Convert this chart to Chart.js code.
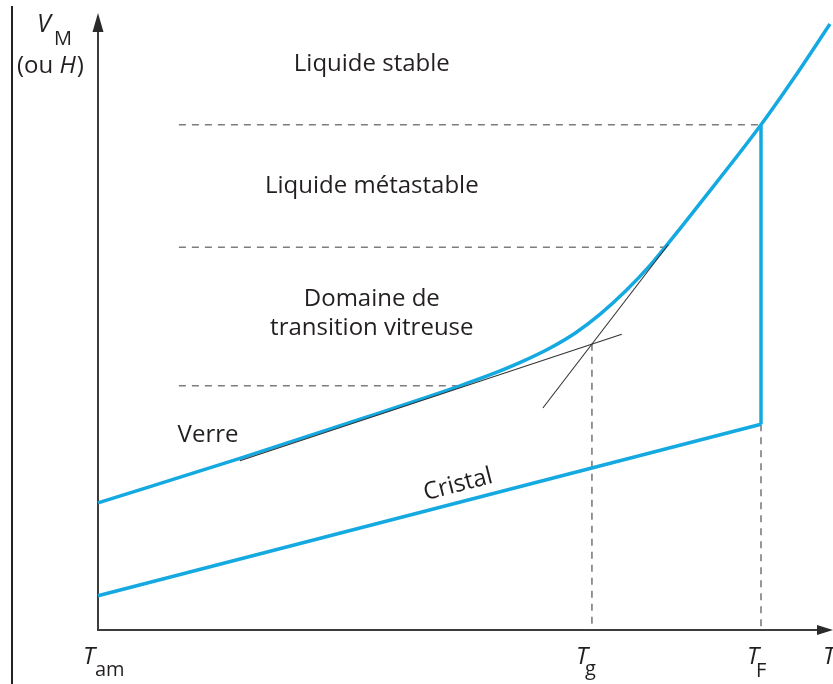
<!DOCTYPE html>
<html>
<head>
<meta charset="utf-8">
<script src="https://cdn.jsdelivr.net/npm/chart.js@4.4.0/dist/chart.umd.min.js"></script>
<style>
html, body { margin: 0; padding: 0; background: #fff; }
#wrap { position: relative; width: 833px; height: 684px; overflow: hidden; }
#wrap canvas { position: absolute; left: 0; top: 0; }
#edge { position: absolute; left: 11px; top: 6px; width: 2px; height: 678px; background: #222; }
</style>
</head>
<body>
<div id="wrap">
  <canvas id="diagram" width="833" height="684"></canvas>
  <div id="edge"></div>
</div>
<script>
// temperature axis: T_am = 0, T_F = 100 ; volume axis in arbitrary units
const tempMax = 110.86;
const volMax = 102.83;

// liquide -> verre (blue curve)
const tempLiquid = [0, 21.4, 40, 54.6, 59.1, 63.7, 68.2, 72.0, 75.7, 79.5, 83.3, 87.0, 90.8, 100, 105.1, 110.4];
const volLiquid  = [21.2, 28.6, 35.3, 40.7, 42.5, 44.6, 47.0, 49.5, 52.6, 56.4, 60.8, 65.8, 71.1, 84.2, 92.2, 101.0];

// cristal
const tempCrystal = [0, 100];
const volCrystal  = [5.7, 34.3];

// saut a la fusion
const tempMelt = [100, 100];
const volMelt  = [34.3, 84.2];

// tangentes (verre / liquide)
const tempGlassTangent  = [21.4, 79.0];
const volGlassTangent   = [28.2, 49.3];
const tempLiquidTangent = [67.1, 86.0];
const volLiquidTangent  = [37.0, 64.2];

// niveaux en pointille
const levelStart = 12.2;
const levelVol   = [84.2, 63.8, 40.7];
const levelEnd   = [100, 85.5, 54.6];

// verticales en pointille
const Tg = 74.5, Vg = 47.7;
const TF = 100, VF = 34.3;

const zonesText = ['Liquide stable', 'Liquide métastable', 'Domaine de', 'transition vitreuse'];
const zonesVol  = [94.3, 73.9, 55.1, 50.3];
const zonesTemp = 41.3;

const blue = '#14a9e0';
const dashGrey = '#7d7d7d';
const ink = '#231f20';

function pts(xs, ys) {
    return xs.map((x, i) => ({ x: x, y: ys[i] }));
}

const datasets = [
    { data: pts(tempGlassTangent, volGlassTangent), borderColor: '#333', borderWidth: 1.1, order: 0 },
    { data: pts(tempLiquidTangent, volLiquidTangent), borderColor: '#333', borderWidth: 1.1, order: 0 },
    { data: pts(tempLiquid, volLiquid), borderColor: blue, borderWidth: 3.5, cubicInterpolationMode: 'monotone', order: 1 },
    { data: pts(tempCrystal, volCrystal), borderColor: blue, borderWidth: 3.5, order: 1 },
    { data: pts(tempMelt, volMelt), borderColor: blue, borderWidth: 3.5, order: 1 },
    { data: pts([Tg, Tg], [Vg, 0]), borderColor: dashGrey, borderWidth: 1.6, borderDash: [7, 6], order: 2 },
    { data: pts([TF, TF], [VF, 0]), borderColor: dashGrey, borderWidth: 1.6, borderDash: [7, 6], order: 2 }
];
levelVol.forEach((v, i) => {
    datasets.push({ data: pts([levelStart, levelEnd[i]], [v, v]), borderColor: dashGrey, borderWidth: 1.6, borderDash: [7, 6], order: 2 });
});
datasets.forEach(d => { d.showLine = true; d.pointRadius = 0; d.fill = false; d.clip = false; });

// T avec indice
function subLabel(ctx, main, sub, x, y, dx, dy) {
    ctx.font = 'italic 24px "Open Sans"';
    ctx.textAlign = 'left';
    ctx.fillText(main, x, y);
    const w = ctx.measureText(main).width;
    ctx.font = '20px "Open Sans"';
    ctx.fillText(sub, x + w + dx, y + dy);
}

const annotations = {
    id: 'annotations',
    beforeDatasetsDraw(chart) {
        const ctx = chart.ctx;
        const xs = chart.scales.x, ys = chart.scales.y;
        const x0 = xs.getPixelForValue(0), y0 = ys.getPixelForValue(0);
        const xEnd = xs.getPixelForValue(tempMax), yEnd = ys.getPixelForValue(volMax);
        ctx.save();
        ctx.strokeStyle = '#3c3c3c';
        ctx.fillStyle = '#2a2a2a';
        ctx.lineWidth = 2;
        ctx.beginPath();
        ctx.moveTo(x0, yEnd + 15);
        ctx.lineTo(x0, y0);
        ctx.lineTo(xEnd - 12, y0);
        ctx.stroke();
        // fleches
        ctx.beginPath();
        ctx.moveTo(x0, yEnd);
        ctx.lineTo(x0 - 5.5, yEnd + 19);
        ctx.lineTo(x0 + 5.5, yEnd + 19);
        ctx.closePath();
        ctx.fill();
        ctx.beginPath();
        ctx.moveTo(xEnd, y0);
        ctx.lineTo(xEnd - 16, y0 - 5);
        ctx.lineTo(xEnd - 16, y0 + 5);
        ctx.closePath();
        ctx.fill();
        ctx.restore();
    },
    afterDatasetsDraw(chart) {
        const ctx = chart.ctx;
        const xs = chart.scales.x, ys = chart.scales.y;
        ctx.save();
        ctx.fillStyle = ink;
        ctx.textBaseline = 'middle';
        ctx.textAlign = 'center';
        ctx.font = '24px "Open Sans"';
        zonesText.forEach((t, i) => {
            ctx.fillText(t, xs.getPixelForValue(zonesTemp), ys.getPixelForValue(zonesVol[i]));
        });
        ctx.fillText('Verre', xs.getPixelForValue(16.6), ys.getPixelForValue(32.5));

        // Cristal, parallele a la droite
        const cx = xs.getPixelForValue(54.3), cy = ys.getPixelForValue(24.2);
        const ang = Math.atan2(ys.getPixelForValue(volCrystal[1]) - ys.getPixelForValue(volCrystal[0]),
                               xs.getPixelForValue(tempCrystal[1]) - xs.getPixelForValue(tempCrystal[0]));
        ctx.save();
        ctx.translate(cx, cy);
        ctx.rotate(ang);
        ctx.fillText('Cristal', 0, 0);
        ctx.restore();

        // etiquettes des axes
        ctx.textBaseline = 'alphabetic';
        const yb = ys.getPixelForValue(0) + 34;
        subLabel(ctx, 'T', 'am', xs.getPixelForValue(0) - 15, yb, 0, 12);
        subLabel(ctx, 'T', 'g', xs.getPixelForValue(Tg) - 16, yb, -3, 11);
        subLabel(ctx, 'T', 'F', xs.getPixelForValue(TF) - 14, yb, -3, 13);
        ctx.font = 'italic 24px "Open Sans"';
        ctx.fillText('T', xs.getPixelForValue(tempMax) - 10, yb);

        ctx.font = 'italic 25px "Open Sans"';
        ctx.fillText('V', 37, 32);
        ctx.font = '20px "Open Sans"';
        ctx.fillText('M', 54, 45);
        ctx.font = '24px "Open Sans"';
        ctx.fillText('(ou ', 17, 73);
        const w = ctx.measureText('(ou ').width;
        ctx.font = 'italic 24px "Open Sans"';
        ctx.fillText('H', 17 + w, 73);
        const wh = ctx.measureText('H').width;
        ctx.font = '24px "Open Sans"';
        ctx.fillText(')', 17 + w + wh + 1, 73);
        ctx.restore();
    }
};

new Chart(document.getElementById('diagram'), {
    type: 'scatter',
    data: { datasets: datasets },
    options: {
        responsive: false,
        animation: false,
        devicePixelRatio: 1,
        layout: { padding: { left: 98, right: 0, top: 13, bottom: 54 } },
        plugins: { legend: { display: false }, tooltip: { enabled: false } },
        scales: {
            x: { type: 'linear', min: 0, max: tempMax, display: false },
            y: { type: 'linear', min: 0, max: volMax, display: false }
        }
    },
    plugins: [annotations]
});
</script>
</body>
</html>
